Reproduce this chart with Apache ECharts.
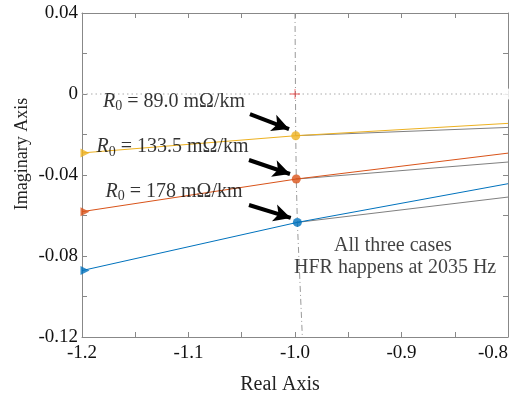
<!DOCTYPE html>
<html>
<head>
<meta charset="utf-8">
<script src="https://cdn.jsdelivr.net/npm/echarts@6/dist/echarts.min.js"></script>
<style>
html, body { margin: 0; padding: 0; background: #fff; }
#main { width: 516px; height: 398px; }
</style>
</head>
<body>
<div id="main"></div>
<script>
// root locus branches (real, imag)
var yellowLocus = [[-1.2, -0.0291], [-0.9993, -0.0206], [-0.8, -0.0145]]
var yellowGray = [[-0.9993, -0.0206], [-0.8, -0.0165]]
var orangeLocus = [[-1.2, -0.0581], [-0.9988, -0.0420], [-0.8, -0.0292]]
var orangeGray = [[-0.9988, -0.0420], [-0.8, -0.0336]]
var blueLocus = [[-1.2, -0.0872], [-0.9978, -0.0634], [-0.8, -0.0443]]
var blueGray = [[-0.9978, -0.0634], [-0.8, -0.0509]]
// HFR points at 2035 Hz
var hfrPoints = [[-0.9993, -0.0206], [-0.9988, -0.0420], [-0.9978, -0.0634]]
// dash-dot guide through the HFR points
var guideLine = [[-1.0, 0.04], [-0.9993, -0.0206], [-0.9988, -0.0420], [-0.9978, -0.0634], [-0.9931, -0.12]]
var zeroLine = [[-1.2, 0], [-0.8, 0]]
var crossPoint = [[-1.0, 0]]
var openPoint = [[-0.8, 0]]

var r0Labels = ['89.0', '133.5', '178']
var labelPos = [[-1.1136, -0.0038], [-1.115, -0.0262], [-1.1136, -0.0482]]
var arrows = [
    [[-1.0423, -0.0099], [-1.0056, -0.0173]],
    [[-1.0432, -0.0326], [-1.0047, -0.0395]],
    [[-1.0432, -0.0548], [-1.0040, -0.0612]]
]
var noteLines = ['All three cases', 'HFR happens at 2035 Hz']
var notePos = [[-0.908, -0.0751], [-0.906, -0.0859]]

var cYellow = '#EDB120'
var cOrange = '#D95319'
var cBlue = '#0072BD'
var cGray = '#808080'
var font = 'Liberation Serif'

var myChart = echarts.init(document.getElementById('main'))

function locus (data, color) {
    return { type: 'line', data: data, symbol: 'none', lineStyle: { color: color, width: 1 }, z: 3 }
}

var axisCommon = {
    type: 'value',
    axisLine: { show: true, onZero: false, lineStyle: { color: '#888', width: 1 } },
    axisTick: { show: true, inside: true, length: 5, lineStyle: { color: '#888' } },
    splitLine: { show: false }
}

myChart.setOption({
    animation: false,
    backgroundColor: '#fff',
    textStyle: { fontFamily: font },
    grid: { left: 82, right: 8, top: 13, bottom: 61, outerBoundsMode: 'none', containLabel: false },
    xAxis: [
        Object.assign({}, axisCommon, {
            min: -1.2, max: -0.8, interval: 0.05,
            axisLabel: {
                fontFamily: font, fontSize: 19, color: '#111', margin: 7, alignMaxLabel: 'right',
                formatter: function (v) {
                    var k = v * 10
                    return Math.abs(k - Math.round(k)) < 1e-6 ? v.toFixed(1) : ''
                }
            }
        }),
        Object.assign({}, axisCommon, {
            min: -1.2, max: -0.8, interval: 0.05, position: 'top', axisLabel: { show: false }
        })
    ],
    yAxis: [
        Object.assign({}, axisCommon, {
            min: -0.12, max: 0.04, interval: 0.02,
            axisLabel: {
                fontFamily: font, fontSize: 19, color: '#111', margin: 4,
                formatter: function (v) {
                    var k = v * 25
                    if (Math.abs(k - Math.round(k)) > 1e-6) return ''
                    if (Math.abs(v) < 1e-9) return '0'
                    return v.toFixed(2)
                }
            }
        }),
        Object.assign({}, axisCommon, {
            min: -0.12, max: 0.04, interval: 0.02, position: 'right', axisLabel: { show: false }
        })
    ],
    graphic: [
        {
            type: 'text', x: 280, y: 385,
            style: { text: 'Real Axis', font: '20px "Liberation Serif"', fill: '#222', align: 'center', verticalAlign: 'middle' }
        },
        {
            type: 'text', x: 22, y: 154, rotation: Math.PI / 2,
            style: { text: 'Imaginary Axis', font: '18px "Liberation Serif"', fill: '#222', align: 'center', verticalAlign: 'middle' }
        }
    ],
    series: [
        { type: 'line', data: zeroLine, symbol: 'none', lineStyle: { color: '#aaa', width: 1, type: [1.5, 3] }, z: 1 },
        { type: 'line', data: guideLine, symbol: 'none', lineStyle: { color: '#999', width: 1, type: [6, 3, 1, 3] }, z: 2 },
        locus(yellowGray, cGray),
        locus(orangeGray, cGray),
        locus(blueGray, cGray),
        locus(yellowLocus, cYellow),
        locus(orangeLocus, cOrange),
        locus(blueLocus, cBlue),
        {
            type: 'scatter', z: 5, symbolSize: 9,
            data: hfrPoints.map(function (p, i) {
                return { value: p, itemStyle: { color: [cYellow, cOrange, cBlue][i] } }
            })
        },
        {
            type: 'scatter', z: 5, symbol: 'triangle', symbolSize: 9, symbolRotate: -90, symbolOffset: [3, 0],
            data: [yellowLocus[0], orangeLocus[0], blueLocus[0]].map(function (p, i) {
                return { value: p, itemStyle: { color: [cYellow, cOrange, cBlue][i] } }
            })
        },
        {
            type: 'scatter', z: 5, symbol: 'path://M4.6,0h0.8v10h-0.8zM0,4.6h10v0.8h-10z', symbolSize: 10,
            itemStyle: { color: '#f03030' }, data: crossPoint
        },
        {
            type: 'scatter', z: 5, symbol: 'emptyCircle', symbolSize: 9, clip: false,
            itemStyle: { color: '#fff', borderColor: cYellow, borderWidth: 1 }, data: openPoint
        },
        {
            type: 'line', data: [], z: 6,
            markLine: {
                silent: true, symbol: ['none', 'arrow'], symbolSize: [13, 17],
                label: { show: false },
                lineStyle: { color: '#000', width: 4, type: 'solid' },
                data: arrows.map(function (a) {
                    return [{ coord: a[0] }, { coord: a[1] }]
                })
            }
        },
        {
            type: 'scatter', z: 7, symbolSize: 0,
            data: labelPos,
            label: {
                show: true, position: 'inside', color: '#000', fontFamily: font, fontSize: 20,
                formatter: function (params) {
                    return '{r|R}{s|0}{t| = ' + r0Labels[params.dataIndex] + ' mΩ/km}'
                },
                rich: {
                    r: { fontFamily: font, fontSize: 20, fontStyle: 'italic', color: '#000' },
                    s: { fontFamily: font, fontSize: 14, color: '#000', padding: [10, 0, 0, 0] },
                    t: { fontFamily: font, fontSize: 20, color: '#000' }
                }
            }
        },
        {
            type: 'scatter', z: 7, symbolSize: 0,
            data: notePos,
            label: {
                show: true, position: 'inside', color: '#111', fontFamily: font, fontSize: 20,
                formatter: function (params) { return noteLines[params.dataIndex] }
            }
        }
    ]
})
</script>
</body>
</html>
